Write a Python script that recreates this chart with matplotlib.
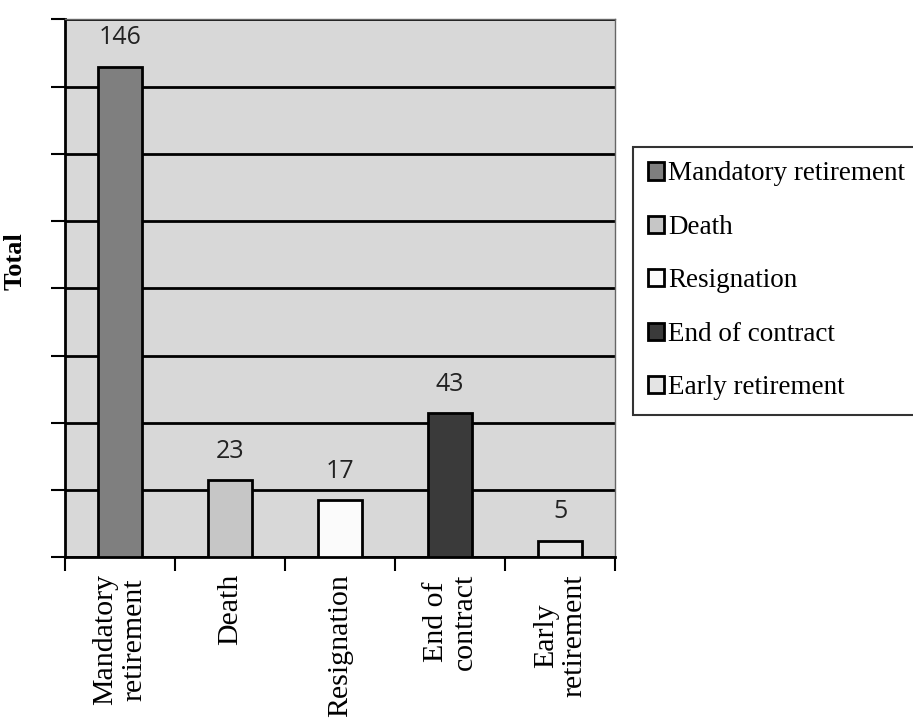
import numpy as np
import matplotlib
matplotlib.use("Agg")
import matplotlib.pyplot as plt
from matplotlib.ticker import MultipleLocator, FixedLocator

# ── data ──────────────────────────────────────────────────────────────────────
categories = ["Mandatory\nretirement", "Death", "Resignation", "End of\ncontract", "Early\nretirement"]
legend_labels = ["Mandatory retirement", "Death", "Resignation", "End of contract", "Early retirement"]
totals = [146, 23, 17, 43, 5]
colors = ["#7f7f7f", "#c6c6c6", "#fbfbfb", "#3a3a3a", "#e4e4e4"]

# ── figure ────────────────────────────────────────────────────────────────────
fig = plt.figure(figsize=(9.13, 7.22), dpi=100)
ax = fig.add_axes([0.071, 0.228, 0.603, 0.745])
ax.set_facecolor("#d8d8d8")

x = np.arange(len(totals))
bars = ax.bar(x, totals, width=0.4, color=colors, edgecolor="black", linewidth=2, zorder=3)

for xi, v in zip(x, totals):
    ax.text(xi, v + 8.5, str(v), ha="center", va="center", fontsize=18,
            family="Open Sans", color="#222222", zorder=4)

ax.set_xlim(-0.5, len(totals) - 0.5)
ax.set_ylim(0, 160)
ax.yaxis.set_major_locator(MultipleLocator(20))
ax.yaxis.grid(True, color="black", linewidth=2, zorder=1)
ax.set_yticklabels([])
ax.tick_params(axis="y", direction="out", length=10, width=1.5)

ax.set_xticks(x)
ax.set_xticklabels(categories, rotation=90, family="Liberation Serif", fontsize=21.5,
                   linespacing=1.15)
ax.tick_params(axis="x", which="major", length=0, pad=12)
ax.xaxis.set_minor_locator(FixedLocator(np.arange(-0.5, len(totals), 1.0)))
ax.tick_params(axis="x", which="minor", direction="out", length=10, width=1.5)

for side in ["left", "bottom"]:
    ax.spines[side].set_linewidth(2)
for side in ["top", "right"]:
    ax.spines[side].set_linewidth(1)
    ax.spines[side].set_color("#666666")

ax.set_ylabel("Total", family="Liberation Serif", fontweight="bold", fontsize=19)
ax.yaxis.set_label_coords(-0.07, 0.55)

leg = fig.legend(bars, legend_labels, loc="upper left", bbox_to_anchor=(0.693, 0.797),
                 prop={"family": "Liberation Serif", "size": 19.5}, frameon=True,
                 fancybox=False, edgecolor="black", handlelength=0.6, handleheight=0.6,
                 handletextpad=0.15, labelspacing=1.05, borderpad=0.55, borderaxespad=0)
leg.get_frame().set_linewidth(1.5)

fig.savefig("out.png", dpi=100)
